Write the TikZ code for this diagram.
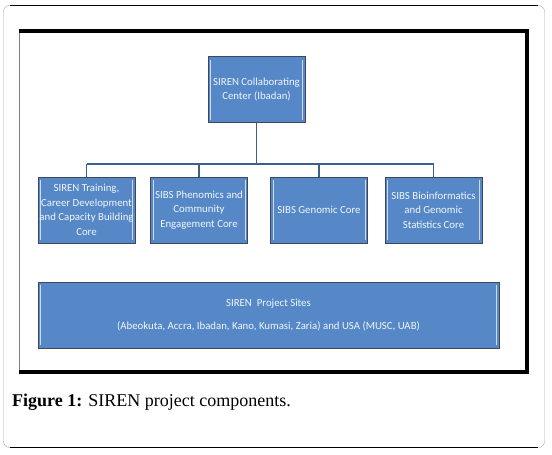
\documentclass[tikz,border=0pt]{standalone}
\usepackage{fontspec}
\setmainfont{Liberation Serif}
\newfontfamily\boxfont{Carlito}
\definecolor{corefill}{RGB}{86,136,199}
\definecolor{coreedge}{RGB}{62,72,92}
\definecolor{coreline}{RGB}{58,96,140}
\begin{document}
\begin{tikzpicture}[x=1pt,y=-1pt,
	core/.style={draw=coreedge,fill=corefill,line width=0.8pt,inner sep=0pt,
		minimum width=97pt,minimum height=66pt,align=center,text=white!92!corefill,
		font=\boxfont\fontsize{10.8}{14.5}\selectfont,
		path picture={\draw[white!70!corefill,line width=0.8pt]
			([shift={(2.5pt,3pt)}]path picture bounding box.south west)--([shift={(2.5pt,-3pt)}]path picture bounding box.north west)
			([shift={(-2.5pt,3pt)}]path picture bounding box.south east)--([shift={(-2.5pt,-3pt)}]path picture bounding box.north east);}},
	link/.style={draw=coreline,line width=1.3pt}]
	\useasboundingbox (0,0) rectangle (552,455);
	% outer card and frame
	\draw[gray!70,rounded corners=6pt] (3.5,5.5) rectangle (544.5,447.5);
	\draw[black] (10,5.5)--(538,5.5) (10,447.5)--(538,447.5);
	\draw[gray,line width=0.8pt] (19.5,31)--(19.5,372);
	\draw[line width=4pt] (19,31)--(527,31)--(527,372)--(19,372);
	% boxes
	\node[core] (center) at (256.5,89.5) {SIREN Collaborating\\Center (Ibadan)};
	\node[core] (training) at (86.5,210) {SIREN Training,\\Career Development\\and Capacity Building\\Core};
	\node[core] (phenomics) at (199,210) {SIBS Phenomics and\\Community\\Engagement Core};
	\node[core] (genomic) at (319,210) {SIBS Genomic Core};
	\node[core] (bioinf) at (433.5,210) {SIBS Bioinformatics\\and Genomic\\Statistics Core};
	\node[core,minimum width=461pt] (sites) at (268.5,315) {SIREN\ \ Project Sites\\[8.5pt](Abeokuta, Accra, Ibadan, Kano, Kumasi, Zaria) and USA (MUSC, UAB)};
	% connectors
	\coordinate (bus) at (0,164);
	\draw[link] (center.south)--(center.south |- bus);
	\draw[link] (training.north |- bus)--(bioinf.north |- bus);
	\foreach \n in {training,phenomics,genomic,bioinf}
		\draw[link] (\n.north)--(\n.north |- bus);
	% caption
	\node[anchor=base west,inner sep=0pt,font=\fontsize{18}{21}\selectfont] (caption) at (12,406) {\textbf{Figure 1:} SIREN project components.};
\end{tikzpicture}
\end{document}
